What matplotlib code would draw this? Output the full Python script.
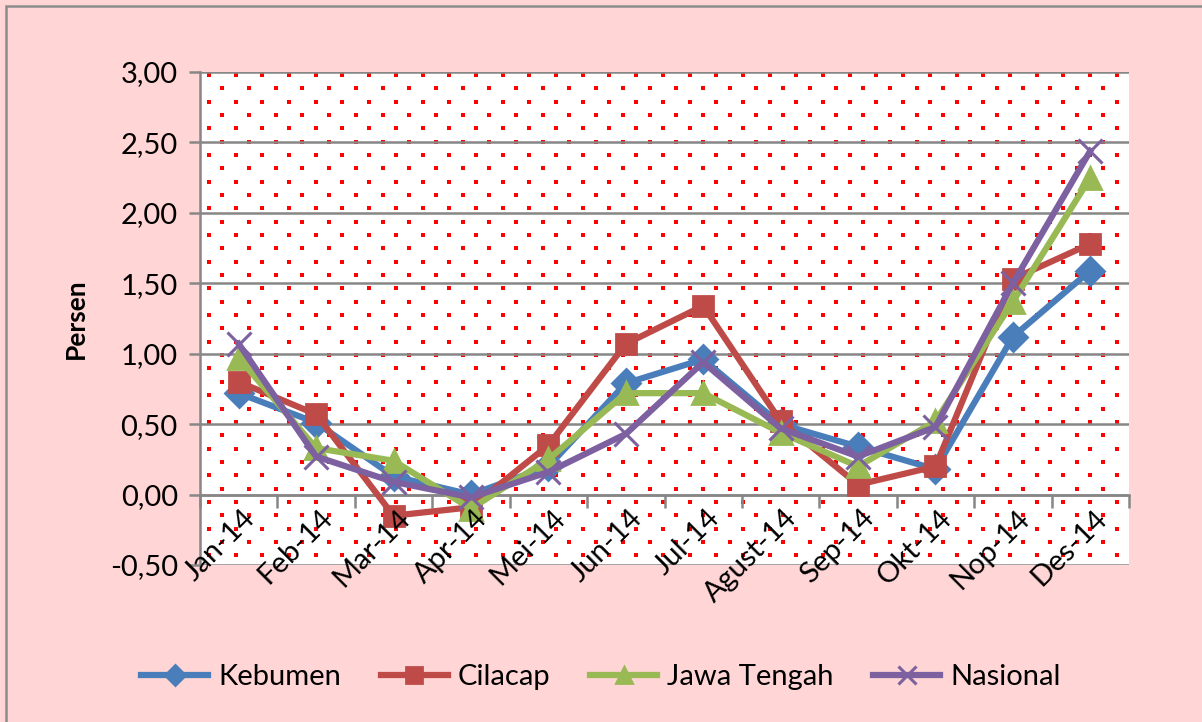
import matplotlib.pyplot as plt
import numpy as np
from matplotlib.patches import Rectangle

plt.rcParams['font.family'] = ['Lato', 'DejaVu Sans']

bulan = ["Jan-14", "Feb-14", "Mar-14", "Apr-14", "Mei-14", "Jun-14",
         "Jul-14", "Agust-14", "Sep-14", "Okt-14", "Nop-14", "Des-14"]
kebumen = [0.72, 0.51, 0.13, 0.00, 0.20, 0.79, 0.96, 0.50, 0.34, 0.18, 1.12, 1.59]
cilacap = [0.80, 0.57, -0.15, -0.09, 0.35, 1.07, 1.34, 0.52, 0.07, 0.20, 1.53, 1.78]
jateng = [0.97, 0.33, 0.24, -0.10, 0.25, 0.72, 0.72, 0.44, 0.20, 0.52, 1.37, 2.25]
nasional = [1.07, 0.27, 0.09, -0.02, 0.16, 0.43, 0.94, 0.47, 0.27, 0.48, 1.50, 2.44]
y_ticks = [-0.5, 0.0, 0.5, 1.0, 1.5, 2.0, 2.5, 3.0]

W, H = 1202, 722
PINK = "#FFD5D5"
GRID = "#878787"

fig = plt.figure(figsize=(W / 100, H / 100), dpi=100, facecolor=PINK)
# border of the chart area
fig.patches.append(Rectangle((6 / W, -0.1), 1.2, 1 - 6 / H + 0.1, transform=fig.transFigure,
                             fill=False, edgecolor="#8c8c8c", linewidth=1.8, zorder=0))

L, R, T, B = 200, 1129, 72, 565
ax = fig.add_axes([L / W, 1 - B / H, (R - L) / W, (B - T) / H])
ax.set_facecolor("white")

# dotted fill pattern of the plot area
rows = np.arange(T + 2.8, B - 5, 13.35)
px, py = [], []
for k, yy in enumerate(rows):
    start = L + 9 + (13.35 if k % 2 else 0)
    xs = np.arange(start, R - 2, 26.7)
    px.extend(xs)
    py.extend([yy] * len(xs))
px = (np.array(px) - L) / (R - L)
py = (B - np.array(py)) / (B - T)
ax.scatter(px, py, s=5, marker="s", color="#FF0000", linewidths=0, transform=ax.transAxes, zorder=0.5)

x = np.arange(len(bulan))
series = [
    ("Kebumen", kebumen, "#4A7EBB", "D", 14, 2),
    ("Cilacap", cilacap, "#BE4B48", "s", 15, 2),
    ("Jawa Tengah", jateng, "#98B954", "^", 16, 2),
    ("Nasional", nasional, "#7D60A0", "x", 17, 2.2),
]
for name, vals, col, mk, ms, mew in series:
    ax.plot(x, vals, color=col, linewidth=4.5, marker=mk, markersize=ms,
            markeredgewidth=mew, markeredgecolor=col, markerfacecolor=col,
            label=name, zorder=3, clip_on=False)

ax.set_xlim(-0.5, len(bulan) - 0.5)
ax.set_ylim(-0.5, 3.0)
ax.set_yticks(y_ticks)
ax.set_yticklabels([f"{v:.2f}".replace(".", ",") for v in y_ticks], fontsize=21)
ax.yaxis.grid(True, color=GRID, linewidth=1.8, zorder=1)
ax.set_axisbelow(True)
ax.tick_params(axis="y", length=8, width=1.8, color=GRID, pad=8)

for s in ["top", "right"]:
    ax.spines[s].set_visible(False)
ax.spines["left"].set_color(GRID)
ax.spines["left"].set_linewidth(1.8)
ax.spines["bottom"].set_position(("data", 0))
ax.spines["bottom"].set_color(GRID)
ax.spines["bottom"].set_linewidth(1.8)

ax.set_xticks(np.arange(len(bulan) + 1) - 0.5)
ax.set_xticklabels([])
ax.tick_params(axis="x", length=9, width=1.8, color=GRID, direction="out")
for i, lab in enumerate(bulan):
    ax.annotate(lab, xy=(i, 0), xycoords=("data", "data"), xytext=(9, -14),
                textcoords="offset points", rotation=45, rotation_mode="anchor",
                ha="right", va="center", fontsize=21, annotation_clip=False)

ax.set_ylabel("Persen", fontsize=19, fontweight="bold", labelpad=16)

fig.legend(loc="center", bbox_to_anchor=(0.5, 1 - 677 / H), ncol=4, frameon=False,
           fontsize=21, handlelength=2.3, handletextpad=0.35, columnspacing=1.35,
           markerscale=0.75)

fig.savefig("out.png", dpi=100, facecolor=PINK)
